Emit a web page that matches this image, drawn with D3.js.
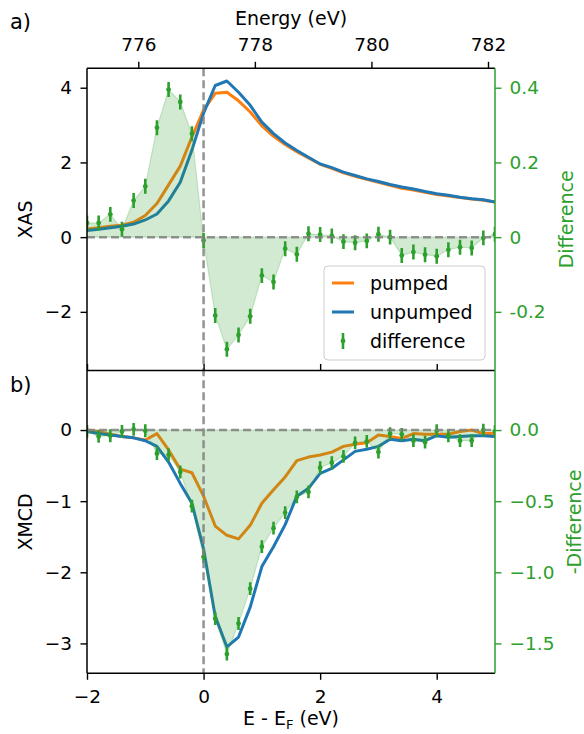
<!DOCTYPE html>
<html>
<head>
<meta charset="utf-8">
<script src="https://cdnjs.cloudflare.com/ajax/libs/d3/7.8.5/d3.min.js"></script>
<style>
    body { margin: 0; background: #fff; }
    svg text { font-family: "DejaVu Sans", sans-serif; }
</style>
</head>
<body>
<div id="chart"></div>
<script>
// E - E_F (eV), sampled every 0.2 eV
var energy = [-2.0, -1.8, -1.6, -1.4, -1.2, -1.0, -0.8, -0.6, -0.4, -0.2,
    0.0, 0.2, 0.4, 0.6, 0.8, 1.0, 1.2, 1.4, 1.6, 1.8,
    2.0, 2.2, 2.4, 2.6, 2.8, 3.0, 3.2, 3.4, 3.6, 3.8,
    4.0, 4.2, 4.4, 4.6, 4.8, 5.0];

// panel a) XAS
var xasPumped = [0.22, 0.25, 0.29, 0.32, 0.40, 0.58, 0.90, 1.40, 1.90, 2.68,
    3.40, 3.85, 3.88, 3.65, 3.35, 2.98, 2.70, 2.48, 2.29, 2.12,
    1.95, 1.84, 1.72, 1.63, 1.55, 1.47, 1.39, 1.31, 1.26, 1.20,
    1.14, 1.10, 1.06, 1.02, 0.99, 0.94];
var xasUnpumped = [0.18, 0.21, 0.25, 0.29, 0.35, 0.46, 0.62, 0.97, 1.47, 2.33,
    3.32, 4.06, 4.18, 3.88, 3.53, 3.08, 2.77, 2.52, 2.32, 2.14,
    1.96, 1.86, 1.74, 1.65, 1.56, 1.49, 1.41, 1.34, 1.29, 1.22,
    1.16, 1.12, 1.07, 1.03, 1.00, 0.94];
var xasDiff = [0.038, 0.038, 0.061, 0.021, 0.098, 0.136, 0.293, 0.395, 0.362, 0.277,
    -0.009, -0.21, -0.30, -0.262, -0.212, -0.103, -0.12, -0.031, -0.046, 0.009,
    0.007, 0.003, -0.012, -0.015, -0.010, 0.008, 0.0, -0.049, -0.040, -0.047,
    -0.051, -0.034, -0.027, -0.029, -0.002, 0.008];
var xasDiffErr = 0.02;

// panel b) XMCD
var xmcdPumped = [0.00, -0.02, -0.06, -0.09, -0.11, -0.14, -0.05, -0.28, -0.55, -0.60,
    -0.93, -1.35, -1.48, -1.53, -1.34, -1.03, -0.84, -0.66, -0.43, -0.38,
    -0.35, -0.31, -0.23, -0.20, -0.18, -0.07, -0.09, -0.12, -0.05, -0.06,
    -0.06, -0.06, -0.02, 0.00, -0.05, -0.05];
var xmcdUnpumped = [-0.02, -0.05, -0.07, -0.09, -0.11, -0.15, -0.23, -0.45, -0.75, -1.03,
    -1.67, -2.62, -3.05, -2.91, -2.49, -1.92, -1.64, -1.33, -0.93, -0.82,
    -0.61, -0.54, -0.42, -0.30, -0.27, -0.23, -0.13, -0.15, -0.13, -0.15,
    -0.08, -0.10, -0.09, -0.08, -0.08, -0.09];
var xmcdNegDiff = [-0.01, -0.045, -0.04, -0.01, 0.005, -0.005, -0.165, -0.175, -0.295, -0.535,
    -0.89, -1.325, -1.575, -1.36, -1.115, -0.82, -0.69, -0.58, -0.47, -0.435,
    -0.265, -0.23, -0.185, -0.09, -0.08, -0.155, -0.025, -0.03, -0.075, -0.085,
    -0.005, -0.04, -0.075, -0.075, 0.0, -0.01];
var xmcdDiffErr = 0.045;

// ticks
var xTicks = [-2, 0, 2, 4];
var energyTicks = [776, 778, 780, 782];
var edgeOffset = 777.12;   // absolute energy of E_F
var xasTicks = [-2, 0, 2, 4];
var xasDiffTicks = [-0.2, 0, 0.2, 0.4];
var xmcdTicks = [-3, -2, -1, 0];
var xmcdDiffTicks = [-1.5, -1.0, -0.5, 0];

var legendItems = [
    {label: "pumped", type: "line", color: "#ff7f0e"},
    {label: "unpumped", type: "line", color: "#1f77b4"},
    {label: "difference", type: "err", color: "#2ca02c"}
];

var colors = {pumped: "#ff7f0e", unpumped: "#1f77b4", diff: "#2ca02c"};

var W = 584, H = 734;
var plot = {left: 87, right: 495, topA: 68.3, midAB: 370.5, bottomB: 673.3};
var tickFont = 18.5, labelFont = 19;

var svg = d3.select("#chart").append("svg")
    .attr("width", W)
    .attr("height", H);

var x = d3.scaleLinear().domain([-2, 5]).range([plot.left, plot.right]);
var xEnergy = d3.scaleLinear().domain([-2 + edgeOffset, 5 + edgeOffset]).range([plot.left, plot.right]);

var yA = d3.scaleLinear().domain([-3.57, 4.52]).range([plot.midAB, plot.topA]);
var yA2 = d3.scaleLinear().domain([-0.357, 0.452]).range([plot.midAB, plot.topA]);
var yB = d3.scaleLinear().domain([-3.42, 0.837]).range([plot.bottomB, plot.midAB]);
var yB2 = d3.scaleLinear().domain([-1.71, 0.4185]).range([plot.bottomB, plot.midAB]);

var minus = function(s) { return s.replace("-", "\u2212"); };

var defs = svg.append("defs");
defs.append("clipPath").attr("id", "clipA").append("rect")
    .attr("x", plot.left).attr("y", plot.topA)
    .attr("width", plot.right - plot.left).attr("height", plot.midAB - plot.topA);
defs.append("clipPath").attr("id", "clipB").append("rect")
    .attr("x", plot.left).attr("y", plot.midAB)
    .attr("width", plot.right - plot.left).attr("height", plot.bottomB - plot.midAB);

function drawPanel(clipId, y, y2, pumped, unpumped, diff, err) {
    var g = svg.append("g").attr("clip-path", "url(#" + clipId + ")");

    var line = function(vals) {
        return d3.line()
            .x(function(d, i) { return x(energy[i]); })
            .y(function(d) { return y(d); })(vals);
    };

    g.append("path").attr("d", line(pumped))
        .attr("fill", "none").attr("stroke", colors.pumped)
        .attr("stroke-width", 3).attr("stroke-linejoin", "round");
    g.append("path").attr("d", line(unpumped))
        .attr("fill", "none").attr("stroke", colors.unpumped)
        .attr("stroke-width", 3).attr("stroke-linejoin", "round");

    // difference on the twin axis, filled to zero
    var area = d3.area()
        .x(function(d, i) { return x(energy[i]); })
        .y0(y2(0))
        .y1(function(d) { return y2(d); });
    g.append("path").attr("d", area(diff))
        .attr("fill", colors.diff).attr("fill-opacity", 0.22)
        .attr("stroke", colors.diff).attr("stroke-opacity", 0.22)
        .attr("stroke-width", 1.2);

    var pts = g.append("g").selectAll("g")
        .data(diff)
        .enter().append("g");
    pts.append("line")
        .attr("x1", function(d, i) { return x(energy[i]); })
        .attr("x2", function(d, i) { return x(energy[i]); })
        .attr("y1", function(d) { return y2(d - err); })
        .attr("y2", function(d) { return y2(d + err); })
        .attr("stroke", colors.diff).attr("stroke-width", 2.6);
    pts.append("circle")
        .attr("cx", function(d, i) { return x(energy[i]); })
        .attr("cy", function(d) { return y2(d); })
        .attr("r", 2.4)
        .attr("fill", colors.diff);

    // zero line
    g.append("line")
        .attr("x1", plot.left).attr("x2", plot.right)
        .attr("y1", y(0)).attr("y2", y(0))
        .attr("stroke", "#808080").attr("stroke-opacity", 0.85)
        .attr("stroke-width", 2.5).attr("stroke-dasharray", "8,4");
}

drawPanel("clipA", yA, yA2, xasPumped, xasUnpumped, xasDiff, xasDiffErr);
drawPanel("clipB", yB, yB2, xmcdPumped, xmcdUnpumped, xmcdNegDiff, xmcdDiffErr);

// E_F marker through both panels
svg.append("line")
    .attr("x1", x(0)).attr("x2", x(0))
    .attr("y1", plot.topA).attr("y2", plot.bottomB)
    .attr("stroke", "#808080").attr("stroke-opacity", 0.85)
    .attr("stroke-width", 2.5).attr("stroke-dasharray", "8,4");

// axes
function styleAxis(g, color) {
    g.select(".domain").remove();
    g.selectAll(".tick line").attr("stroke", color).attr("stroke-width", 1.4);
    g.selectAll(".tick text").attr("fill", color)
        .style("font-size", tickFont + "px")
        .style("font-family", "DejaVu Sans, sans-serif");
}

svg.append("g")
    .attr("transform", "translate(0," + plot.topA + ")")
    .call(d3.axisTop(xEnergy).tickValues(energyTicks).tickSize(6.5).tickPadding(11).tickFormat(d3.format("d")))
    .call(styleAxis, "#000");

svg.append("g")
    .attr("transform", "translate(0," + plot.midAB + ")")
    .call(d3.axisTop(x).tickValues(xTicks).tickSize(6.5).tickFormat(""))
    .call(styleAxis, "#000");

svg.append("g")
    .attr("transform", "translate(0," + plot.bottomB + ")")
    .call(d3.axisBottom(x).tickValues(xTicks).tickSize(6.5).tickPadding(10).tickFormat(d3.format("d")))
    .call(styleAxis, "#000");

svg.append("g")
    .attr("transform", "translate(" + plot.left + ",0)")
    .call(d3.axisLeft(yA).tickValues(xasTicks).tickSize(6.5).tickPadding(8.5).tickFormat(d3.format("d")))
    .call(styleAxis, "#000");

svg.append("g")
    .attr("transform", "translate(" + plot.left + ",0)")
    .call(d3.axisLeft(yB).tickValues(xmcdTicks).tickSize(6.5).tickPadding(8.5).tickFormat(d3.format("d")))
    .call(styleAxis, "#000");

svg.append("g")
    .attr("transform", "translate(" + plot.right + ",0)")
    .call(d3.axisRight(yA2).tickValues(xasDiffTicks).tickSize(6.5).tickPadding(8)
        .tickFormat(function(d) { return d === 0 ? "0" : d.toFixed(1); }))
    .call(styleAxis, colors.diff);

svg.append("g")
    .attr("transform", "translate(" + plot.right + ",0)")
    .call(d3.axisRight(yB2).tickValues(xmcdDiffTicks).tickSize(6.5).tickPadding(8)
        .tickFormat(function(d) { return minus(d.toFixed(1)); }))
    .call(styleAxis, colors.diff);

// spines
var spines = svg.append("g").attr("stroke-width", 1.5).attr("fill", "none");
[plot.topA, plot.midAB, plot.bottomB].forEach(function(yy) {
    spines.append("line").attr("x1", plot.left).attr("x2", plot.right)
        .attr("y1", yy).attr("y2", yy).attr("stroke", "#000");
});
spines.append("line").attr("x1", plot.left).attr("x2", plot.left)
    .attr("y1", plot.topA).attr("y2", plot.bottomB).attr("stroke", "#000");
spines.append("line").attr("x1", plot.right).attr("x2", plot.right)
    .attr("y1", plot.topA).attr("y2", plot.bottomB).attr("stroke", colors.diff);

// labels
function addText(txt, px, py, rot, color, size) {
    var t = svg.append("text")
        .attr("transform", "translate(" + px + "," + py + ")" + (rot ? " rotate(" + rot + ")" : ""))
        .attr("text-anchor", "middle")
        .attr("fill", color)
        .style("font-size", size + "px")
        .text(txt);
    return t;
}

addText("Energy (eV)", (plot.left + plot.right) / 2, 25, 0, "#000", labelFont);
var xl = addText("", (plot.left + plot.right) / 2, 725, 0, "#000", labelFont);
xl.append("tspan").text("E - E");
xl.append("tspan").attr("dy", 4).style("font-size", "13px").text("F");
xl.append("tspan").attr("dy", -4).text(" (eV)");

addText("XAS", 32, (plot.topA + plot.midAB) / 2, -90, "#000", labelFont);
addText("XMCD", 32, (plot.midAB + plot.bottomB) / 2, -90, "#000", labelFont);
addText("Difference", 573, (plot.topA + plot.midAB) / 2, -90, colors.diff, labelFont);
addText("-Difference", 581, (plot.midAB + plot.bottomB) / 2, -90, colors.diff, labelFont);

svg.append("text").attr("x", 10).attr("y", 29).style("font-size", "21px").text("a)");
svg.append("text").attr("x", 10).attr("y", 392).style("font-size", "21px").text("b)");

// legend
var lg = svg.append("g").attr("transform", "translate(324,266)");
lg.append("rect")
    .attr("width", 161).attr("height", 94)
    .attr("rx", 4).attr("ry", 4)
    .attr("fill", "#fff").attr("fill-opacity", 0.8)
    .attr("stroke", "#cccccc").attr("stroke-width", 1);

var rows = lg.selectAll("g.item")
    .data(legendItems)
    .enter().append("g")
    .attr("class", "item")
    .attr("transform", function(d, i) { return "translate(0," + (17 + i * 29) + ")"; });

rows.filter(function(d) { return d.type === "line"; })
    .append("line")
    .attr("x1", 8).attr("x2", 30)
    .attr("stroke", function(d) { return d.color; })
    .attr("stroke-width", 3);
var errRows = rows.filter(function(d) { return d.type === "err"; });
errRows.append("line")
    .attr("x1", 19).attr("x2", 19).attr("y1", -8).attr("y2", 8)
    .attr("stroke", function(d) { return d.color; }).attr("stroke-width", 2.6);
errRows.append("circle")
    .attr("cx", 19).attr("r", 2.4)
    .attr("fill", function(d) { return d.color; });

rows.append("text")
    .attr("x", 46).attr("dy", "0.35em")
    .style("font-size", labelFont + "px")
    .text(function(d) { return d.label; });
</script>
</body>
</html>
